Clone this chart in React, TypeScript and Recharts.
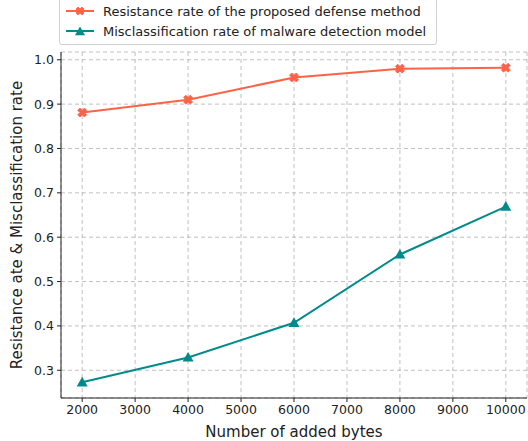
import React from 'react';
import { LineChart, Line, XAxis, YAxis, CartesianGrid } from 'recharts';

const bytes = [2000, 4000, 6000, 8000, 10000];
const resistance = [0.881, 0.91, 0.96, 0.98, 0.982];
const misclassification = [0.273, 0.329, 0.407, 0.561, 0.669];
const xTicks = [2000, 3000, 4000, 5000, 6000, 7000, 8000, 9000, 10000];
const yTicks = [0.3, 0.4, 0.5, 0.6, 0.7, 0.8, 0.9, 1.0];
const legendLabels = [
  'Resistance rate of the proposed defense method',
  'Misclassification rate of malware detection model',
];

const data = bytes.map((b, i) => ({
  bytes: b,
  resistance: resistance[i],
  misclassification: misclassification[i],
}));

const RED = '#ff6347';
const TEAL = '#008b8b';
const FONT = '"DejaVu Sans", sans-serif';

// filled "X" marker, like matplotlib's 'X'
const XMark = ({ cx, cy, size = 5, color }: any) => {
  if (cx == null || cy == null) return null;
  const s = size;
  const w = s * 0.5;
  const d = `M${cx - s},${cy - s + w} L${cx - s + w},${cy - s} L${cx},${cy - w} L${cx + s - w},${cy - s} L${cx + s},${cy - s + w} L${cx + w},${cy} L${cx + s},${cy + s - w} L${cx + s - w},${cy + s} L${cx},${cy + w} L${cx - s + w},${cy + s} L${cx - s},${cy + s - w} L${cx - w},${cy} Z`;
  return <path d={d} fill={color} stroke={color} strokeWidth={0.8} strokeLinejoin="round" />;
};

const TriMark = ({ cx, cy, size = 5.5, color }: any) => {
  if (cx == null || cy == null) return null;
  const s = size;
  const d = `M${cx},${cy - s} L${cx + s},${cy + s * 0.75} L${cx - s},${cy + s * 0.75} Z`;
  return <path d={d} fill={color} />;
};

function ChartLegend() {
  const colors = [RED, TEAL];
  return (
    <div
      style={{
        position: 'absolute',
        left: 59,
        top: -4,
        border: '1px solid #d0d0d0',
        borderRadius: 3,
        background: 'rgba(255,255,255,0.8)',
        padding: '4px 10px 3px 5px',
        fontFamily: FONT,
        fontSize: 13,
        color: '#222',
        whiteSpace: 'nowrap',
      }}
    >
      {legendLabels.map((label, i) => (
        <div key={label} style={{ display: 'flex', alignItems: 'center', height: 20 }}>
          <svg width={30} height={14} style={{ marginRight: 8 }}>
            <line x1={1} y1={7} x2={29} y2={7} stroke={colors[i]} strokeWidth={2} />
            {i === 0 ? (
              <XMark cx={15} cy={7} size={4} color={colors[i]} />
            ) : (
              <TriMark cx={15} cy={7.5} size={5} color={colors[i]} />
            )}
          </svg>
          <span>{label}</span>
        </div>
      ))}
    </div>
  );
}

export default function App() {
  return (
    <div style={{ position: 'absolute', left: 0, top: 0, width: 528, height: 441, background: '#fff' }}>
      <LineChart
        width={528}
        height={441}
        data={data}
        margin={{ top: 52, right: 1, bottom: 0, left: 0 }}
      >
        <CartesianGrid stroke="#b0b0b0" strokeDasharray="4 3" strokeWidth={0.8} />
        <XAxis
          dataKey="bytes"
          type="number"
          domain={[1600, 10400]}
          ticks={xTicks}
          height={43}
          tickSize={4}
          tickMargin={3}
          stroke="#222"
          tick={{ fill: '#222', fontSize: 12.5, fontFamily: FONT }}
          label={{ value: 'Number of added bytes', position: 'insideBottom', offset: 4, fill: '#222', fontSize: 15, fontFamily: FONT }}
        />
        <XAxis xAxisId="top" dataKey="bytes" type="number" domain={[1600, 10400]} orientation="top" height={0} tick={false} tickLine={false} stroke="#222" />
        <YAxis
          type="number"
          domain={[0.2375, 1.0175]}
          ticks={yTicks}
          width={61}
          tickSize={4}
          tickMargin={3}
          stroke="#222"
          tickFormatter={(v: number) => v.toFixed(1)}
          tick={{ fill: '#222', fontSize: 12.5, fontFamily: FONT }}
          label={{ value: 'Resistance ate & Misclassification rate', angle: -90, position: 'insideLeft', offset: 17, style: { textAnchor: 'middle' }, fill: '#222', fontSize: 15, fontFamily: FONT }}
        />
        <YAxis yAxisId="right" orientation="right" width={0} tick={false} tickLine={false} stroke="#222" domain={[0.2375, 1.0175]} />
        <Line
          dataKey="resistance"
          stroke={RED}
          strokeWidth={2}
          isAnimationActive={false}
          dot={(p: any) => <XMark key={`r${p.index}`} cx={p.cx} cy={p.cy} size={4.5} color={RED} />}
          activeDot={false}
        />
        <Line
          dataKey="misclassification"
          stroke={TEAL}
          strokeWidth={2}
          isAnimationActive={false}
          dot={(p: any) => <TriMark key={`m${p.index}`} cx={p.cx} cy={p.cy} size={5.5} color={TEAL} />}
          activeDot={false}
        />
      </LineChart>
      <ChartLegend />
    </div>
  );
}
